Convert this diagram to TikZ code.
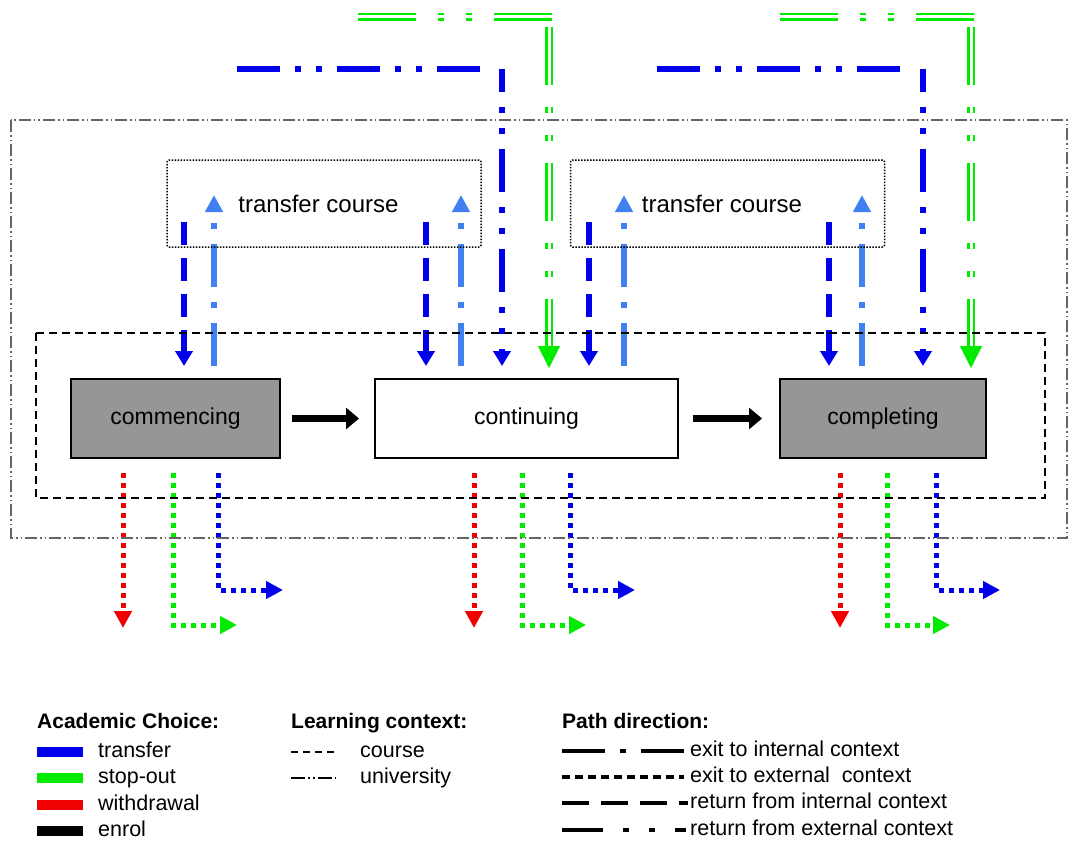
\documentclass[tikz,border=0pt]{standalone}
\usepackage{fontspec}
\setmainfont{Liberation Sans}
\usetikzlibrary{arrows.meta}
\definecolor{trblue}{RGB}{0,0,235}
\definecolor{exblue}{RGB}{64,128,240}
\definecolor{sogreen}{RGB}{0,235,0}
\definecolor{wdred}{RGB}{240,0,0}
\definecolor{stagegray}{RGB}{150,150,150}
\definecolor{unigray}{RGB}{100,100,100}

\begin{document}
\begin{tikzpicture}[x=1pt,y=-1pt,
  stage/.style={draw=black,line width=2pt,minimum height=79pt,inner sep=0pt,font=\fontsize{23}{27}\selectfont},
  tcbox/.style={draw=black,line width=1.5pt,dash pattern=on 1.5pt off 1.5pt,rounded corners=2pt,minimum width=314pt,minimum height=87pt},
  coursebox/.style={draw=black,line width=2pt,dash pattern=on 8pt off 5pt},
  unibox/.style={draw=unigray,line width=1.2pt,dash pattern=on 12pt off 3pt on 1.5pt off 3pt on 1.5pt off 3pt},
  retint/.style={trblue,line width=6pt,dash pattern=on 23pt off 13pt,-{Triangle[width=17pt,length=15pt]}},
  exitint/.style={exblue,line width=6pt,dash pattern=on 43pt off 15pt on 6pt off 15pt,-{Triangle[width=17pt,length=17pt]}},
  retext/.style={trblue,line width=6pt,dash pattern=on 43pt off 15pt on 6pt off 15pt on 6pt off 15pt,-{Triangle[width=17pt,length=15pt]}},
  sodouble/.style={sogreen,line width=2.5pt,double=white,double distance=3pt,dash pattern=on 58pt off 22pt on 6pt off 22pt on 6pt off 22pt},
  sotip/.style={sogreen,line width=1pt,-{Triangle[width=22pt,length=22pt]}},
  exitext/.style={line width=5pt,dash pattern=on 5pt off 5pt,-{Triangle[width=17pt,length=17pt]}},
  enrol/.style={line width=7pt,-{Triangle[width=21pt,length=13pt]}},
  legend/.style={anchor=west,inner sep=0pt,text height=15pt,text depth=4pt,font=\fontsize{21.5}{25}\selectfont},
  legtitle/.style={legend,font=\fontsize{21}{25}\selectfont\bfseries},
  swatch/.style={anchor=west,minimum width=46pt,minimum height=10pt,inner sep=0pt},
  sample/.style={line width=4pt}]
\useasboundingbox (0,0) rectangle (1070,843);

% stages
\node[stage,fill=stagegray,minimum width=209pt] (commencing) at (175.5,418.5) {commencing};
\node[stage,fill=white,minimum width=303pt] (continuing) at (526.5,418.5) {continuing};
\node[stage,fill=stagegray,minimum width=206pt] (completing) at (883,418.5) {completing};
\draw[enrol] ([xshift=11pt]commencing.east) -- ([xshift=-15pt]continuing.west);
\draw[enrol] ([xshift=14pt]continuing.east) -- ([xshift=-17pt]completing.west);

% free ends of the paths
\coordinate (soa) at (358,17);
\coordinate (sob) at (549,346);
\coordinate (soc) at (780,17);
\coordinate (sod) at (971,346);
\coordinate (ua) at (237,69);
\coordinate (ub) at (502,366);
\coordinate (uc) at (657,69);
\coordinate (ud) at (923,366);
\foreach \n/\x in {ra/184,rb/426,rc/589,rd/829}
  \coordinate (\n) at (\x,222);
\foreach \n/\x in {ea/214,eb/461,ec/624,ed/862}
  \coordinate (\n) at (\x,366);
\foreach \n/\x in {wa/123,wb/474,wc/840,sa/173,sb/522,sc/887,ta/218,tb/570,tc/936}
  \coordinate (\n) at (\x,473);

% return from outside the university
\draw[sodouble] (soa) -- ++(194,0);
\draw[sodouble,dash phase=126pt] (sob |- soa) -- (sob);
\draw[sotip] (sob) -- ++(0,22);
\draw[sodouble] (soc) -- ++(194,0);
\draw[sodouble,dash phase=126pt] (sod |- soc) -- (sod);
\draw[sotip] (sod) -- ++(0,22);
\draw[retext,-] (ua) -- ++(247,0);
\draw[retext,dash phase=20pt] (ub |- ua) -- (ub);
\draw[retext,-] (uc) -- ++(249,0);
\draw[retext,dash phase=20pt] (ud |- uc) -- (ud);

% transfer to and from another course
\draw[retint] (ra) -- ++(0,144);
\draw[retint] (rb) -- ++(0,144);
\draw[retint] (rc) -- ++(0,144);
\draw[retint] (rd) -- ++(0,144);
\draw[exitint] (ea) -- ++(0,-171);
\draw[exitint] (eb) -- ++(0,-171);
\draw[exitint] (ec) -- ++(0,-171);
\draw[exitint] (ed) -- ++(0,-171);

% exits to outside the university
\draw[exitext,wdred] (wa) -- ++(0,155);
\draw[exitext,wdred] (wb) -- ++(0,155);
\draw[exitext,wdred] (wc) -- ++(0,155);
\draw[exitext,sogreen] (sa) |- ++(64,152);
\draw[exitext,sogreen] (sb) |- ++(64,152);
\draw[exitext,sogreen] (sc) |- ++(63,152);
\draw[exitext,trblue] (ta) |- ++(65,117);
\draw[exitext,trblue] (tb) |- ++(65,117);
\draw[exitext,trblue] (tc) |- ++(64,117);

% contexts
\draw[unibox] (11,120) rectangle (1067,538);
\draw[coursebox] (36,333) rectangle (1045,498);
\node[tcbox] (tc-left) at (324,203.5) {};
\node[tcbox] (tc-right) at (727.5,203.5) {};
\node[font=\fontsize{24}{28}\selectfont] (tc-left-text) at (318.5,204) {transfer course};
\node[font=\fontsize{24}{28}\selectfont] (tc-right-text) at (722,204) {transfer course};

% legend
\node[legtitle] (choice) at (37,723) {Academic Choice:};
\node[swatch,fill=trblue] (sw-tr) at (37,752) {};
\node[swatch,fill=sogreen] (sw-so) at (37,778) {};
\node[swatch,fill=wdred] (sw-wd) at (37,805) {};
\node[swatch,fill=black] (sw-en) at (37,831) {};
\node[legend] (lg-tr) at (98,752) {transfer};
\node[legend] (lg-so) at (98,778) {stop-out};
\node[legend] (lg-wd) at (98,805) {withdrawal};
\node[legend] (lg-en) at (98,831) {enrol};

\node[legtitle] (context) at (291,723) {Learning context:};
\draw[line width=2pt,dash pattern=on 7pt off 5pt] (291,752) -- (334,752);
\draw[line width=2pt,dash pattern=on 14pt off 3pt on 2pt off 3pt on 2pt off 3pt] (291,778) -- (336,778);
\node[legend] (lg-course) at (360,752) {course};
\node[legend] (lg-uni) at (360,778) {university};

\node[legtitle] (direction) at (562,723) {Path direction:};
\draw[sample,dash pattern=on 43pt off 15pt on 6pt off 15pt] (562,751) -- (684,751);
\draw[sample,dash pattern=on 8pt off 5pt] (562,777) -- (684,777);
\draw[sample,dash pattern=on 27pt off 12pt] (562,803) -- (688,803);
\draw[sample,dash pattern=on 41pt off 20pt on 6pt off 20pt on 6pt off 20pt] (562,830) -- (686,830);
\node[legend] (lg-ei) at (690,751) {exit to internal context};
\node[legend] (lg-ee) at (690,777) {exit to external\ \ context};
\node[legend] (lg-ri) at (690,803) {return from internal context};
\node[legend] (lg-re) at (690,830) {return from external context};
\end{tikzpicture}
\end{document}
